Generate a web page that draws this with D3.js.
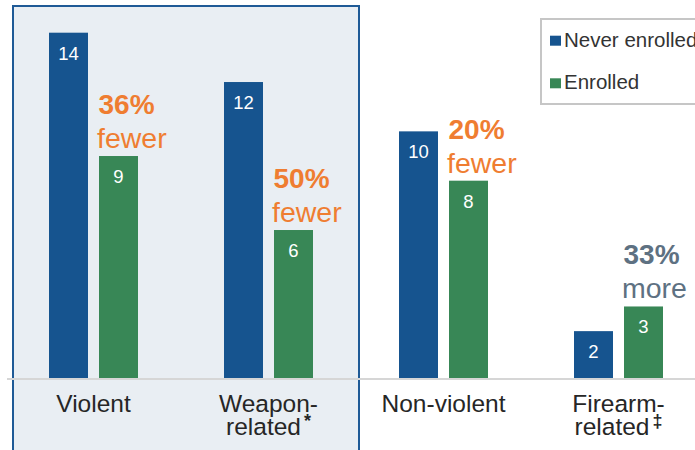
<!DOCTYPE html>
<html>
<head>
<meta charset="utf-8">
<script src="https://cdn.jsdelivr.net/npm/d3@7"></script>
<style>
  html, body { margin: 0; padding: 0; background: #fff; }
  svg { display: block; font-family: "Liberation Sans", Arial, Helvetica, sans-serif; }
</style>
</head>
<body>
<svg id="chart" width="695" height="450"></svg>
<script>
// ---- data ----
const categories = ["Violent", "Weapon-related", "Non-violent", "Firearm-related"];
const categoryLines = [["Violent"], ["Weapon-", "related"], ["Non-violent"], ["Firearm-", "related"]];
const categoryMarks = ["", "*", "", "\u2021"];
const seriesNames = ["Never enrolled", "Enrolled"];
const neverEnrolled = [14, 12, 10, 1.9];
const enrolled = [9, 6, 8, 2.9];
const valueLabels = [["14", "12", "10", "2"], ["9", "6", "8", "3"]];
const changePct = ["36%", "50%", "20%", "33%"];
const changeWord = ["fewer", "fewer", "fewer", "more"];
const changeDir = ["down", "down", "down", "up"];

const colors = ["#16548f", "#388756"];
const orange = "#ef7d31";
const slate = "#5e7182";

const svg = d3.select("#chart");
const baseline = 378;

const x = d3.scaleBand().domain(categories).range([6, 706]).paddingInner(0).paddingOuter(0);
const xs = d3.scaleBand().domain(seriesNames).range([x.bandwidth() / 2 - 44.5, x.bandwidth() / 2 + 44.5]).paddingInner(0.22).paddingOuter(0);
const y = d3.scaleLinear().domain([0, 14]).range([baseline, 32.7]);

// highlighted region (Violent + Weapon-related)
svg.append("rect")
  .attr("x", 13).attr("y", 6)
  .attr("width", 346).attr("height", 460)
  .attr("fill", "#e9eef3")
  .attr("stroke", "#1f5a96").attr("stroke-width", 2);

// baseline
svg.append("line")
  .attr("x1", 7).attr("x2", 695)
  .attr("y1", baseline + 1).attr("y2", baseline + 1)
  .attr("stroke", "#d6d6d6").attr("stroke-width", 2);

const series = [neverEnrolled, enrolled];
const g = svg.append("g");

categories.forEach((c, i) => {
  const gx = x(c);
  seriesNames.forEach((s, j) => {
    const v = series[j][i];
    const bx = gx + xs(s);
    g.append("rect")
      .attr("x", bx).attr("y", y(v))
      .attr("width", xs.bandwidth()).attr("height", baseline - y(v))
      .attr("fill", colors[j]);
    g.append("text")
      .attr("x", bx + xs.bandwidth() / 2).attr("y", y(v) + 27)
      .attr("text-anchor", "middle")
      .attr("fill", "#fff").attr("font-size", 18.5)
      .text(valueLabels[j][i]);
  });
  // change annotation
  const gxE = gx + xs(seriesNames[1]);
  const topE = y(enrolled[i]);
  const col = changeDir[i] === "down" ? orange : slate;
  g.append("text")
    .attr("x", gxE - 0.5).attr("y", topE - 42)
    .attr("fill", col).attr("font-size", 28).attr("font-weight", "bold")
    .text(changePct[i]);
  g.append("text")
    .attr("x", gxE - 2).attr("y", topE - 8)
    .attr("fill", col).attr("font-size", 28.5)
    .text(changeWord[i]);

  // category labels
  const cx = gx + x.bandwidth() / 2;
  const lines = categoryLines[i];
  lines.forEach((ln, k) => {
    const t = g.append("text")
      .attr("x", cx).attr("y", 412 + k * 23)
      .attr("text-anchor", "middle")
      .attr("fill", "#262626").attr("font-size", 24.5)
      .text(ln);
    if (k === lines.length - 1 && categoryMarks[i]) {
      t.append("tspan")
        .attr("dy", -8).attr("font-size", 18)
        .attr("font-weight", "bold")
        .attr("dx", 3)
        .text(categoryMarks[i]);
    }
  });
});

// legend
const lg = svg.append("g");
lg.append("rect")
  .attr("x", 541).attr("y", 19)
  .attr("width", 170).attr("height", 85)
  .attr("fill", "#fff")
  .attr("stroke", "#c6c6c6").attr("stroke-width", 2);
seriesNames.forEach((s, j) => {
  const yy = 46.7 + j * 42.6;
  lg.append("rect")
    .attr("x", 550).attr("y", yy - 11)
    .attr("width", 11).attr("height", 10)
    .attr("fill", colors[j]);
  lg.append("text")
    .attr("x", 564).attr("y", yy)
    .attr("fill", "#333").attr("font-size", 20.5)
    .text(s);
});
</script>
</body>
</html>
